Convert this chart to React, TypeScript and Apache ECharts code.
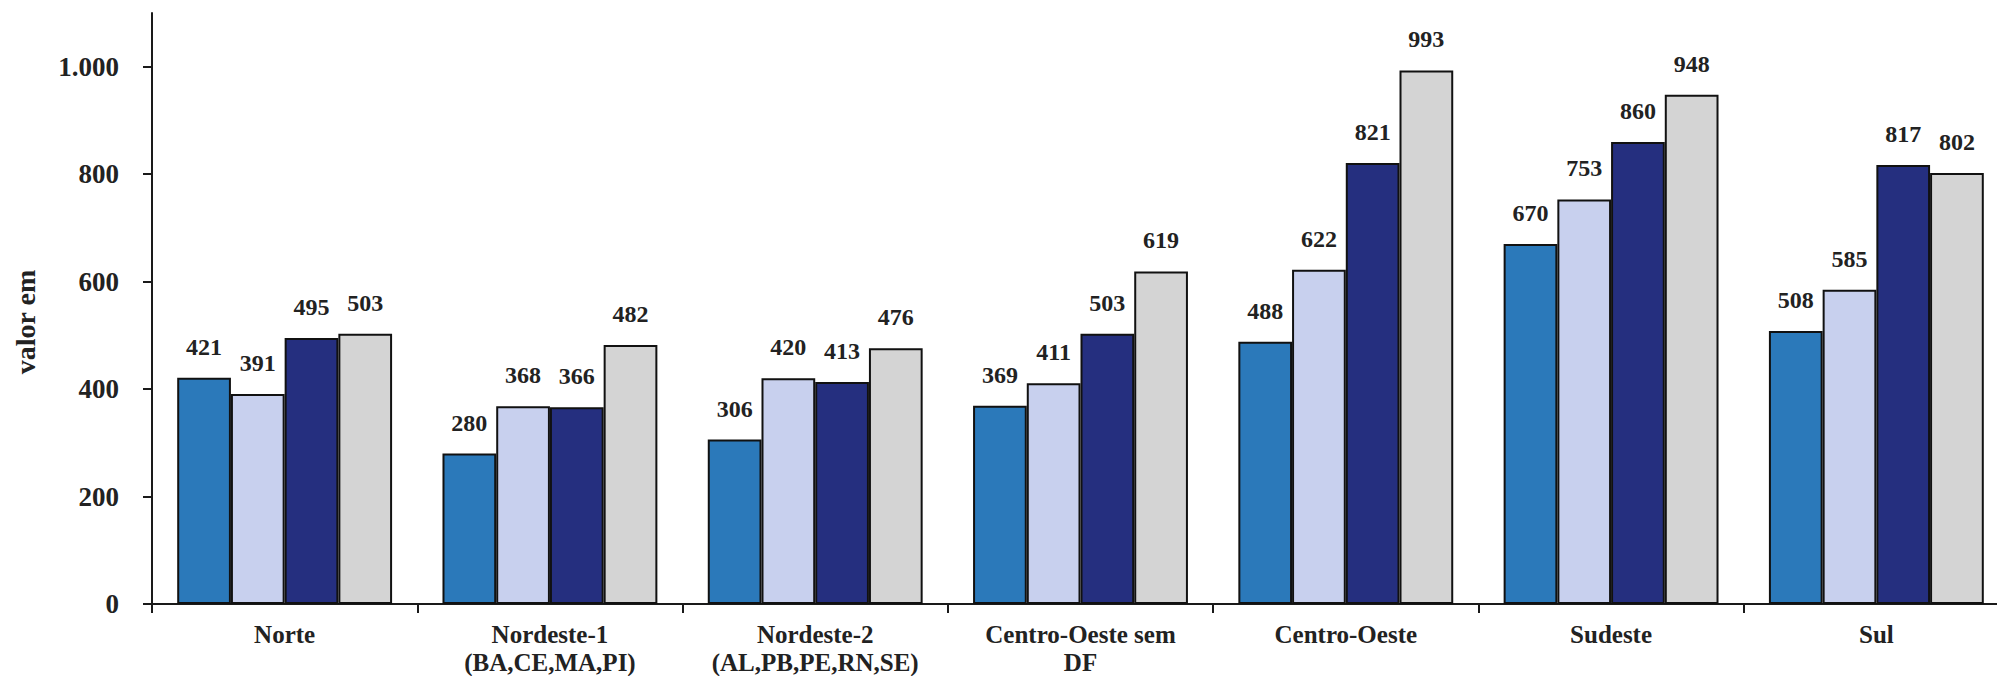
import React, { useEffect, useRef } from "react";
import * as echarts from "echarts";

const categories = [
  "Norte",
  "Nordeste-1\n(BA,CE,MA,PI)",
  "Nordeste-2\n(AL,PB,PE,RN,SE)",
  "Centro-Oeste sem\nDF",
  "Centro-Oeste",
  "Sudeste",
  "Sul",
];
const series1 = [421, 280, 306, 369, 488, 670, 508];
const series2 = [391, 368, 420, 411, 622, 753, 585];
const series3 = [495, 366, 413, 503, 821, 860, 817];
const series4 = [503, 482, 476, 619, 993, 948, 802];
const yTicks = [0, 200, 400, 600, 800, 1000];
const yAxisName = "valor em";

const colors = ["#2b79ba", "#c8d0ee", "#252f7f", "#d4d4d4"];
const FONT = "'Liberation Serif', 'Times New Roman', serif";

function fmt(v: number) {
  return String(v).replace(/\B(?=(\d{3})+(?!\d))/g, ".");
}

export default function App() {
  const ref = useRef<HTMLDivElement>(null);
  useEffect(() => {
    if (!ref.current) return;
    const chart = echarts.init(ref.current, undefined, { renderer: "svg" });
    const all = [series1, series2, series3, series4];
    chart.setOption({
      animation: false,
      backgroundColor: "#ffffff",
      grid: {
        left: 152,
        right: -12,
        top: 13,
        bottom: 72,
        containLabel: false,
        outerBoundsMode: "none",
      },
      graphic: [
        {
          type: "text",
          x: 25,
          y: 322,
          rotation: Math.PI / 2,
          style: {
            text: yAxisName,
            font: `bold 28px ${FONT}`,
            fill: "#222",
            textAlign: "center",
            textVerticalAlign: "middle",
          },
        },
      ],
      xAxis: {
        type: "category",
        data: categories,
        axisLine: { lineStyle: { color: "#1a1a1a", width: 2 } },
        axisTick: { show: true, length: 9, lineStyle: { color: "#1a1a1a", width: 2 } },
        axisLabel: {
          interval: 0,
          margin: 16,
          fontFamily: FONT,
          fontWeight: "bold",
          fontSize: 25,
          lineHeight: 28,
          color: "#222",
        },
      },
      yAxis: {
        type: "value",
        min: 0,
        max: 1100,
        interval: 100,
        splitLine: { show: false },
        axisLine: { show: true, lineStyle: { color: "#1a1a1a", width: 2 } },
        axisTick: {
          show: true,
          length: 9,
          customValues: yTicks,
          lineStyle: { color: "#1a1a1a", width: 2 },
        },
        axisLabel: {
          customValues: yTicks,
          margin: 33,
          fontFamily: FONT,
          fontWeight: "bold",
          fontSize: 27,
          color: "#222",
          formatter: (v: number) => fmt(v),
        },
      },
      series: all.map((d, i) => ({
        type: "bar",
        data: d,
        barGap: "0%",
        barCategoryGap: "19%",
        itemStyle: { color: colors[i], borderColor: "#111", borderWidth: 2 },
        label: {
          show: true,
          position: "top",
          distance: 19,
          fontFamily: FONT,
          fontWeight: "bold",
          fontSize: 24,
          color: "#222",
        },
      })),
    });
    return () => chart.dispose();
  }, []);
  return (
    <div
      ref={ref}
      style={{ position: "fixed", left: 0, top: 0, width: 1997, height: 676 }}
    />
  );
}
